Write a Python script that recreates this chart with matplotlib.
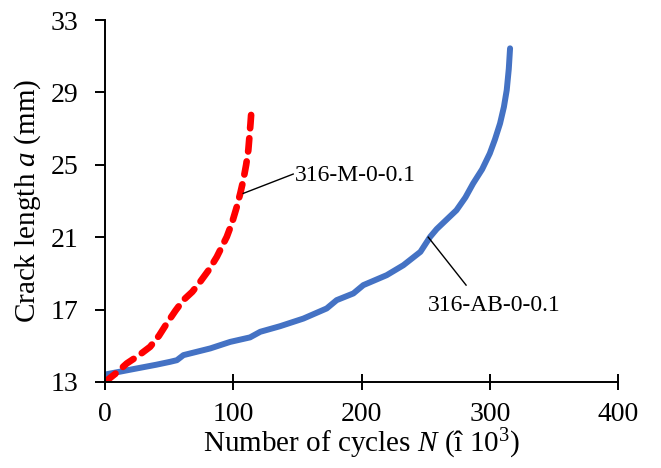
import numpy as np
import matplotlib.pyplot as plt

plt.rcParams['font.family'] = ['Liberation Serif', 'DejaVu Serif']
plt.rcParams['mathtext.fontset'] = 'custom'
plt.rcParams['mathtext.rm'] = 'Liberation Serif'
plt.rcParams['mathtext.it'] = 'Liberation Serif:italic'

# 316-M-0-0.1 (red dashed)
n_m = [0, 8, 16.9, 26, 35.1, 42, 48.1, 55, 61, 68, 74.1, 81, 87.1, 94.9, 99, 102.7, 105.5, 107.8,
       110, 111.7, 112.6, 113.4, 114.4]
a_m = [13.0, 13.45, 14.02, 14.45, 14.94, 15.55, 16.23, 16.95, 17.52, 17.98, 18.53, 19.2, 19.91, 21.02,
       21.8, 22.68, 23.45, 24.16, 25.0, 25.82, 26.6, 27.29, 28.3]

# 316-AB-0-0.1 (blue solid)
n_ab = [0, 1, 20, 40, 50.7, 56, 61.1, 82, 97.5, 113, 121, 136.5, 154.6, 172.8, 180.6, 193.6, 201.4,
        219.6, 232.6, 245.9, 253.5, 258.6, 266, 274, 281, 287, 294, 300, 304, 308, 311, 313.2, 314.8,
        315.8]
a_ab = [13.3, 13.42, 13.68, 13.95, 14.11, 14.2, 14.48, 14.85, 15.21, 15.46, 15.77, 16.08, 16.5, 17.06,
        17.52, 17.89, 18.35, 18.9, 19.45, 20.19, 21.02, 21.45, 21.95, 22.49, 23.2, 23.97, 24.75, 25.63,
        26.4, 27.29, 28.2, 29.13, 30.3, 31.44]

fig = plt.figure(figsize=(6.61, 4.68), dpi=100)
ax = fig.add_axes([0.159, 0.184, 0.776, 0.773])

ax.plot(n_ab, a_ab, color='#4472C4', lw=4.3, solid_capstyle='round', solid_joinstyle='round')
ax.plot(n_m, a_m, color='#FF0000', lw=4.8, ls=(0, (2.0, 1.5)), dash_capstyle='round')

ax.set_xlim(0, 400)
ax.set_ylim(13, 33)
ax.set_xticks([0, 100, 200, 300, 400])
ax.set_yticks([13, 17, 21, 25, 29, 33])
ax.spines['top'].set_visible(False)
ax.spines['right'].set_visible(False)
ax.spines['left'].set_linewidth(1.4)
ax.spines['bottom'].set_linewidth(1.4)
ax.tick_params(axis='x', direction='inout', length=11, width=1.4, labelsize=20, pad=9)
ax.tick_params(axis='y', direction='out', length=7, width=1.4, labelsize=20, pad=12)

ax.set_xlabel('Number of cycles $N$ (î 10$^3$)', fontsize=21, labelpad=0)
ax.set_ylabel('Crack length $a$ (mm)', fontsize=21, labelpad=6)

# leader lines and labels
ax.plot([107.7, 146.7], [23.42, 24.49], color='black', lw=1)
ax.text(148, 24.43, '316-M-0-0.1', fontsize=17, va='center', ha='left')
ax.plot([252, 281.5], [21.0, 18.35], color='black', lw=1)
ax.text(252, 17.24, '316-AB-0-0.1', fontsize=17, va='center', ha='left')

fig.savefig('out.png', dpi=100)
